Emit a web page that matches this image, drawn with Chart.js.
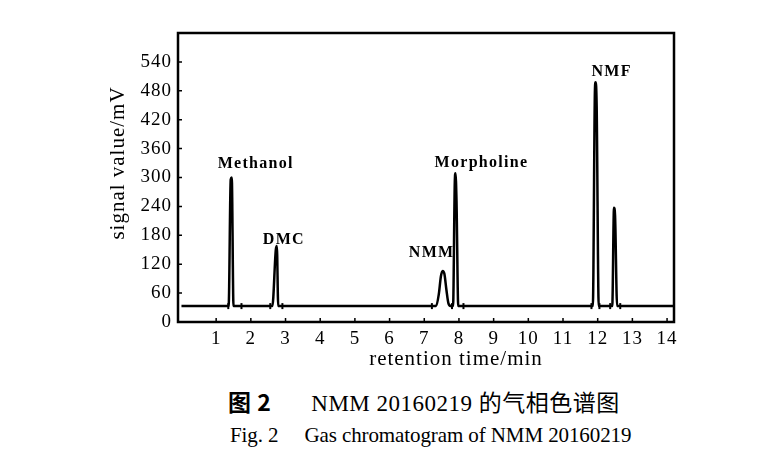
<!DOCTYPE html>
<html>
<head>
<meta charset="utf-8">
<script src="https://cdn.jsdelivr.net/npm/chart.js@4.4.1/dist/chart.umd.min.js"></script>
<style>
    body { margin: 0; background: #fff; width: 773px; height: 471px; overflow: hidden; position: relative; }
    #wrap { position: absolute; left: 0; top: 0; width: 773px; height: 380px; }
    .cap { position: absolute; color: #000; white-space: pre; }
    #cap1 { left: 228px; top: 384px; font: 23px "Liberation Serif", "Noto Sans CJK SC", serif; letter-spacing: 0.5px; }
    #cap1 b { font-family: "Noto Sans CJK SC", sans-serif; font-weight: 700; margin-right: 40px; }
    #cap1 .cjk { font-family: "Noto Sans CJK SC", sans-serif; font-weight: 400; }
    #cap2 { left: 230px; top: 423px; font: 21px "Liberation Serif", serif; letter-spacing: -0.1px; }
    #cap2 span { margin-right: 26px; }
</style>
</head>
<body>
<div id="wrap"><canvas id="gc"></canvas></div>
<div class="cap" id="cap1"><b>图 2</b>NMM 20160219 <span class="cjk">的气相色谱图</span></div>
<div class="cap" id="cap2"><span>Fig. 2</span>Gas chromatogram of NMM 20160219</div>
<script>
// Chromatogramme
var retentionTime = [0, 1.36, 1.42, 1.45, 1.5,
    2.62, 2.72, 2.75, 2.79,
    7.34, 7.42, 7.48, 7.53, 7.58, 7.64, 7.7, 7.78,
    7.83, 7.88, 7.9, 7.93, 7.98,
    11.86, 11.92, 11.94, 11.97, 12.03,
    12.42, 12.47, 12.5, 12.56, 14.2];
var signal = [33, 33, 296, 300, 33,
    33, 150, 158, 33,
    33, 58, 95, 106, 100, 66, 38, 33,
    33, 290, 309, 250, 33,
    33, 480, 498, 450, 33,
    33, 237, 222, 33, 33];

// Marques d'intégration sur la ligne de base
var markerTimes = [1.35, 1.73, 2.56, 2.91, 7.22, 7.8, 8.13, 11.82, 12.05, 12.36, 12.65];
var baselineLevel = 33;

// Pics nommés
var peakNames = ['Methanol', 'DMC', 'NMM', 'Morpholine', 'NMF'];
var peakTimes = [1.45, 2.75, 7.53, 7.9, 11.94];
var peakHeights = [300, 158, 106, 309, 498];

var xTicks = [1, 2, 3, 4, 5, 6, 7, 8, 9, 10, 11, 12, 13, 14];
var yTicks = [0, 60, 120, 180, 240, 300, 360, 420, 480, 540];
var xTitle = 'retention time/min';
var yTitle = 'signal value/mV';

// décalage des étiquettes en pixels par rapport au sommet
var decalages = {
    'Methanol': [24, -14],
    'DMC': [7, -6],
    'NMM': [-11, -18],
    'Morpholine': [26, -10],
    'NMF': [16, -10]
};

var serif = '"Liberation Serif", "DejaVu Serif", serif';

var cadre = {
    id: 'cadre',
    beforeDraw: function(chart) {
        // texte un peu espacé comme sur le scan
        chart.ctx.letterSpacing = '1px';
    },
    afterDatasetsDraw: function(chart) {
        var ctx = chart.ctx;
        var a = chart.chartArea;
        var sx = chart.scales.x, sy = chart.scales.y;
        ctx.save();
        ctx.strokeStyle = '#000';
        ctx.lineWidth = 2.5;
        ctx.strokeRect(a.left, a.top, a.right - a.left, a.bottom - a.top);
        // petites graduations vers l'intérieur
        ctx.lineWidth = 1.5;
        ctx.beginPath();
        sx.ticks.forEach(function(t) {
            var px = sx.getPixelForValue(t.value);
            ctx.moveTo(px, a.bottom);
            ctx.lineTo(px, a.bottom - 4);
        });
        sy.ticks.forEach(function(t) {
            var py = sy.getPixelForValue(t.value);
            ctx.moveTo(a.left, py);
            ctx.lineTo(a.left + 4, py);
        });
        ctx.stroke();
        ctx.fillStyle = '#000';
        ctx.textAlign = 'center';
        ctx.textBaseline = 'middle';
        // noms des pics
        ctx.font = 'bold 16px ' + serif;
        ctx.letterSpacing = '1.3px';
        for (var i = 0; i < peakNames.length; i++) {
            var d = decalages[peakNames[i]];
            ctx.fillText(peakNames[i], sx.getPixelForValue(peakTimes[i]) + d[0], sy.getPixelForValue(peakHeights[i]) + d[1]);
        }
        // titres des axes (décalés comme sur l'original)
        ctx.font = '21px ' + serif;
        ctx.letterSpacing = '1px';
        ctx.fillText(xTitle, 456, a.bottom + 37);
        ctx.translate(118, 163);
        ctx.rotate(-Math.PI / 2);
        ctx.fillText(yTitle, 0, 0);
        ctx.restore();
    },
    afterDraw: function(chart) {
        chart.ctx.letterSpacing = '0px';
    }
};

var ctx = document.getElementById('gc').getContext('2d');
new Chart(ctx, {
    type: 'line',
    data: {
        datasets: [{
            data: retentionTime.map(function(t, i) { return {x: t, y: signal[i]}; }),
            borderColor: '#000',
            borderWidth: 2.5,
            pointRadius: 0,
            cubicInterpolationMode: 'monotone',
            fill: false
        }, {
            data: markerTimes.map(function(t) { return {x: t, y: baselineLevel}; }),
            showLine: false,
            pointStyle: 'line',
            rotation: 90,
            pointRadius: 3,
            borderColor: '#000',
            borderWidth: 2
        }]
    },
    options: {
        responsive: true,
        maintainAspectRatio: false,
        animation: false,
        layout: { padding: { left: 100, right: 99, top: 33, bottom: 0 } },
        plugins: { legend: { display: false }, tooltip: { enabled: false } },
        scales: {
            x: {
                type: 'linear',
                min: -0.1,
                max: 14.2,
                afterBuildTicks: function(s) { s.ticks = xTicks.map(function(v) { return {value: v}; }); },
                afterFit: function(s) { s.height = 58; },
                grid: { display: false, drawTicks: false },
                border: { display: false },
                ticks: { color: '#000', font: { family: serif, size: 19 }, padding: 6, maxRotation: 0, autoSkip: false }
            },
            y: {
                min: 0,
                max: 600,
                afterBuildTicks: function(s) { s.ticks = yTicks.map(function(v) { return {value: v}; }); },
                afterFit: function(s) { s.width = 78; },
                grid: { display: false, drawTicks: false },
                border: { display: false },
                ticks: { color: '#000', font: { family: serif, size: 19 }, padding: 6 }
            }
        }
    },
    plugins: [cadre]
});
</script>
</body>
</html>
